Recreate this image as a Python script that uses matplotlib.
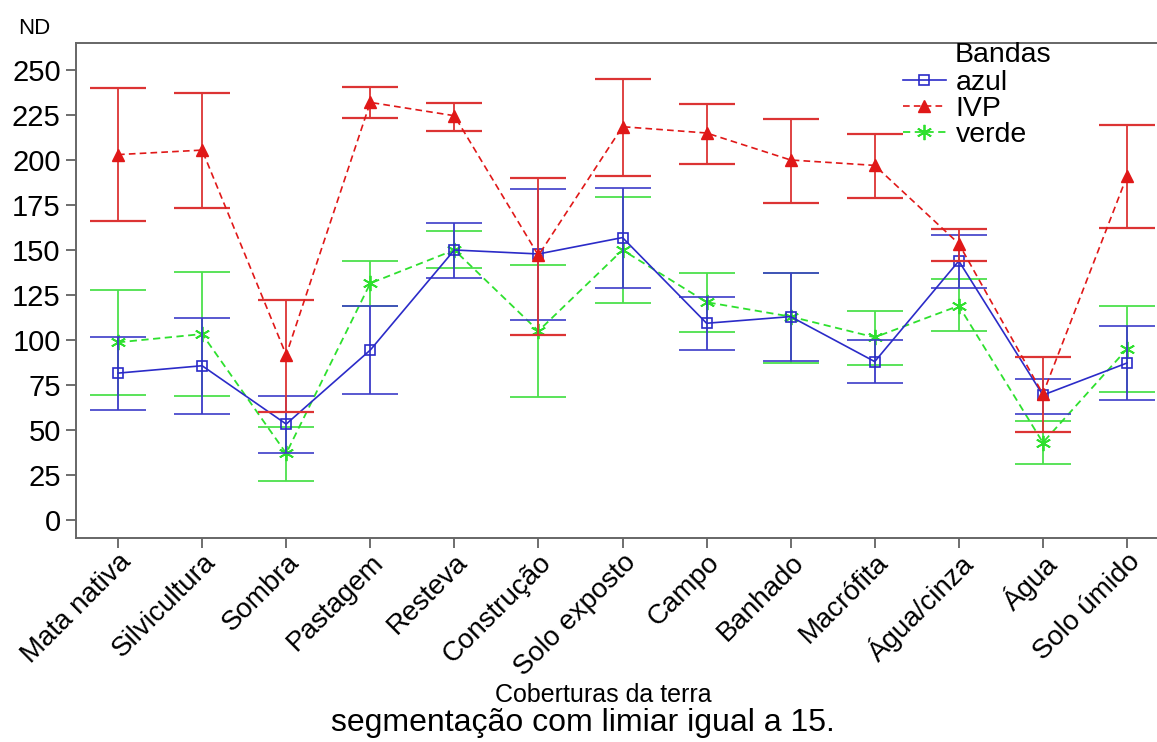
import matplotlib.pyplot as plt
from matplotlib.lines import Line2D

plt.rcParams['font.family'] = ['Liberation Sans', 'DejaVu Sans']

categorias = ['Mata nativa', 'Silvicultura', 'Sombra', 'Pastagem', 'Resteva',
              'Construção', 'Solo exposto', 'Campo', 'Banhado', 'Macrófita',
              'Água/cinza', 'Água', 'Solo úmido']

# azul
azul_media = [81.6, 85.7, 53.3, 94.4, 150.0, 147.8, 156.9, 109.3, 113.0, 88.0, 143.9, 69.4, 87.2]
azul_sup = [101.7, 112.4, 69.0, 119.0, 165.0, 184.0, 184.6, 123.7, 137.0, 100.0, 158.3, 78.3, 107.8]
azul_inf = [61.0, 59.0, 37.2, 70.0, 134.6, 111.0, 129.0, 94.4, 88.5, 76.3, 128.9, 59.0, 66.7]

# IVP
ivp_media = [203.0, 205.5, 91.7, 232.0, 224.6, 147.0, 218.5, 215.0, 200.0, 197.0, 153.5, 70.0, 191.0]
ivp_sup = [240.0, 237.0, 122.0, 240.5, 231.7, 190.0, 245.0, 231.0, 223.0, 214.4, 161.6, 90.6, 219.4]
ivp_inf = [166.0, 173.5, 60.0, 223.5, 216.3, 102.8, 191.0, 198.0, 176.0, 179.0, 143.9, 49.0, 162.4]

# verde
verde_media = [98.7, 103.3, 37.0, 131.5, 150.0, 105.0, 150.0, 121.0, 113.0, 101.5, 119.0, 43.0, 95.0]
verde_sup = [128.0, 138.0, 51.9, 144.0, 160.6, 141.7, 179.4, 137.0, 137.4, 116.0, 133.7, 55.2, 119.0]
verde_inf = [69.3, 68.9, 21.7, 119.0, 140.2, 68.1, 120.7, 104.6, 87.0, 86.0, 105.0, 31.0, 71.0]

x = list(range(len(categorias)))

fig = plt.figure(figsize=(11.57, 7.42), dpi=100)
ax = fig.add_axes([76 / 1157, 1 - 538 / 742, 1093 / 1157, 495 / 742])


def barras(media, sup, inf):
    return [[m - i for m, i in zip(media, inf)], [s - m for m, s in zip(media, sup)]]


azul_cor = '#2b2bc8'
ivp_cor = '#e01818'
verde_cor = '#2ee02e'
tracejado = (0, (4, 2.5))

estilo_azul = dict(color=azul_cor, lw=1.2, marker='s', ms=7, mfc='none', mec=azul_cor, mew=1.2)
estilo_verde = dict(color=verde_cor, lw=1.3, ls=tracejado, marker=(6, 2, 0), ms=11,
                    mec=verde_cor, mew=1.3)
estilo_ivp = dict(color=ivp_cor, lw=1.2, ls=tracejado, marker='^', ms=8, mfc=ivp_cor, mec=ivp_cor)

ax.errorbar(x, azul_media, yerr=barras(azul_media, azul_sup, azul_inf),
            ecolor='#3c3cc8', elinewidth=1.3, capsize=20, capthick=1.6, zorder=3, **estilo_azul)
ax.errorbar(x, verde_media, yerr=barras(verde_media, verde_sup, verde_inf),
            ecolor='#4ce04c', elinewidth=1.3, capsize=20, capthick=1.6, zorder=2, **estilo_verde)
ax.errorbar(x, ivp_media, yerr=barras(ivp_media, ivp_sup, ivp_inf),
            ecolor='#dc3434', elinewidth=1.3, capsize=20, capthick=1.6, zorder=4, **estilo_ivp)

ax.set_xlim(-0.5, 12.5)
ax.set_ylim(-10, 265)
ax.set_yticks(range(0, 251, 25))
ax.set_xticks(x)
ax.set_xticklabels(categorias, rotation=45, ha='right', rotation_mode='anchor', fontsize=20)
ax.tick_params(axis='y', labelsize=21, length=7, width=1.2, color='#555555', pad=4)
ax.tick_params(axis='x', length=7, width=1.2, color='#555555', pad=1)
for lado in ['top', 'left', 'bottom', 'right']:
    ax.spines[lado].set_color('#666666')
    ax.spines[lado].set_linewidth(1.4)

fig.text(18 / 1157, 1 - 28 / 742, 'ND', fontsize=16, va='center', ha='left')

# legenda
fig.text(955 / 1157, 1 - 55 / 742, 'Bandas', fontsize=20.5, va='center', ha='left')
proxies = [Line2D([], [], **estilo_azul), Line2D([], [], **estilo_ivp),
           Line2D([], [], **estilo_verde)]
fig.legend(proxies, ['azul', 'IVP', 'verde'], loc='upper left',
           bbox_to_anchor=(903 / 1157, 1 - 70 / 742), frameon=False, fontsize=20.5,
           handlelength=1.5, handletextpad=0.35, labelspacing=0.0, borderpad=0,
           borderaxespad=0)

fig.text(603 / 1157, 1 - 695 / 742, 'Coberturas da terra', fontsize=18, ha='center', va='center')
fig.text(583 / 1157, 1 - 723 / 742, 'segmentação com limiar igual a 15.', fontsize=23,
         ha='center', va='center')

fig.savefig('out.png', dpi=100)
